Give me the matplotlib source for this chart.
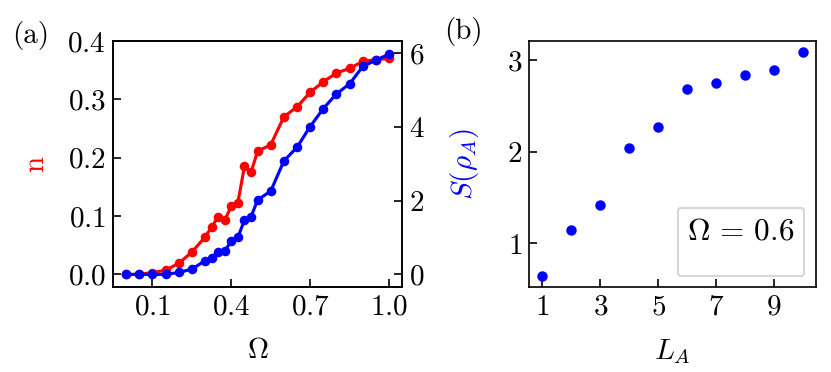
import matplotlib
matplotlib.use("Agg")
import matplotlib.pyplot as plt
from matplotlib.lines import Line2D

plt.rcParams['font.family'] = 'serif'
plt.rcParams['font.serif'] = ['cmr10']
plt.rcParams['mathtext.fontset'] = 'cm'
plt.rcParams['axes.formatter.use_mathtext'] = True
plt.rcParams['font.size'] = 14

# panel (a): density n and entanglement entropy vs Omega
omega = [0.0, 0.05, 0.1, 0.15, 0.2, 0.25, 0.3, 0.325, 0.35, 0.375, 0.4, 0.425,
         0.45, 0.475, 0.5, 0.55, 0.6, 0.65, 0.7, 0.75, 0.8, 0.85, 0.9, 0.95, 1.0]
n_vals = [0.0, 0.0, 0.003, 0.007, 0.019, 0.038, 0.064, 0.081, 0.099, 0.093, 0.117, 0.123,
          0.185, 0.175, 0.211, 0.222, 0.270, 0.287, 0.312, 0.330, 0.345, 0.353, 0.365, 0.368, 0.370]
s_vals = [0.0, 0.0, 0.0, 0.0, 0.054, 0.145, 0.371, 0.452, 0.615, 0.633, 0.914, 1.005,
          1.475, 1.566, 2.018, 2.262, 3.077, 3.448, 4.009, 4.498, 4.896, 5.167, 5.638, 5.81, 5.97]

# panel (b): entropy vs subsystem size at Omega = 0.6
l_a = [1, 2, 3, 4, 5, 6, 7, 8, 9, 10]
s_la = [0.645, 1.147, 1.421, 2.037, 2.275, 2.685, 2.751, 2.839, 2.894, 3.088]

fig = plt.figure(figsize=(831 / 150, 372 / 150), dpi=150)
ax1 = fig.add_axes([0.136, 0.228, 0.348, 0.662])
ax2 = ax1.twinx()
ax3 = fig.add_axes([0.637, 0.228, 0.345, 0.662])

ax1.plot(omega, n_vals, '-o', color='red', lw=1.5, ms=3.6)
ax2.plot(omega, s_vals, '-o', color='blue', lw=1.5, ms=3.6)
ax1.set_ylim(-0.022, 0.4)
ax2.set_ylim(-0.345, 6.33)
ax1.set_xticks([0.1, 0.4, 0.7, 1.0])
ax1.set_yticks([0.0, 0.1, 0.2, 0.3, 0.4])
ax2.set_yticks([0, 2, 4, 6])
ax1.set_xlabel(r'$\Omega$', labelpad=8)
ax1.set_ylabel('n', color='red', labelpad=9)
ax2.set_ylabel(r'$S(\rho_A)$', color='blue', labelpad=11)

ax3.plot(l_a, s_la, 'o', color='blue', ms=4)
ax3.set_xticks([1, 3, 5, 7, 9])
ax3.set_yticks([1, 2, 3])
ax3.set_xlabel(r'$L_A$', labelpad=8)
leg = ax3.legend([Line2D([], [], color='none')], [''], title=r'$\Omega\,=\,0.6$',
                 loc='lower right', title_fontsize=15, handlelength=6.6,
                 handletextpad=0.5, fontsize=7, borderpad=0.65, borderaxespad=0.8)

for ax in (ax1, ax2, ax3):
    ax.tick_params(direction='in', length=4)

fig.text(0.015, 0.885, '(a)')
fig.text(0.535, 0.895, '(b)')

fig.savefig('out.png', dpi=150)
